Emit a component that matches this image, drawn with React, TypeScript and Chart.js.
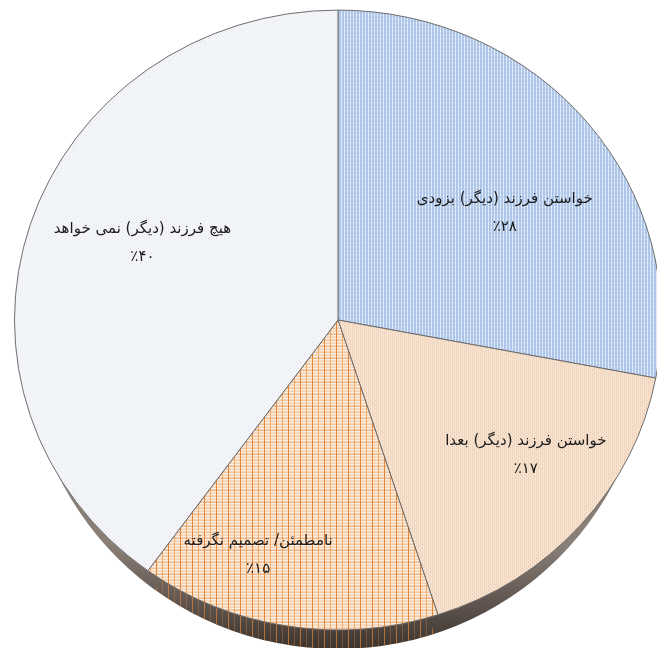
import React, { useEffect, useRef } from "react";
import { Chart, registerables } from "chart.js";

Chart.register(...registerables);

const categories = [
  "خواستن فرزند (دیگر) بزودی",
  "خواستن فرزند (دیگر) بعدا",
  "نامطمئن/ تصمیم نگرفته",
  "هیچ فرزند (دیگر) نمی خواهد",
];
const values = [28, 17, 15, 40];
const percentLabels = ["٪۲۸", "٪۱۷", "٪۱۵", "٪۴۰"];

// label placement relative to slice (radius fraction, angle delta in degrees)
const labelRadius = [0.621, 0.726, 0.799, 0.653];
const labelAngle = [5.7, -4.5, 9.0, 4.2];

const TILT = 0.958; // vertical squash of the pie (3D look)
const RIM = 20;
const RIM_INSET = 12;

function patternWithUnscale(ctx: CanvasRenderingContext2D, c: HTMLCanvasElement) {
  const p = ctx.createPattern(c, "repeat");
  if (!p) return "#eee";
  try {
    p.setTransform(new DOMMatrix().scale(1, 1 / TILT));
  } catch (e) {}
  return p;
}

function makePattern(kind: string): CanvasPattern | string {
  const c = document.createElement("canvas");
  const x = c.getContext("2d")!;
  if (kind === "blue") {
    c.width = 3; c.height = 4;
    x.fillStyle = "#adc6e9"; x.fillRect(0, 0, 3, 4);
    x.fillStyle = "#e9f0f9"; x.fillRect(2, 0, 1, 4);
    x.fillStyle = "#c2d5ee"; x.fillRect(2, 3, 1, 1);
  } else if (kind === "peach") {
    c.width = 4; c.height = 4;
    x.fillStyle = "#f6dfcb"; x.fillRect(0, 0, 4, 4);
    x.fillStyle = "#e6c1a0"; x.fillRect(0, 0, 1, 1); x.fillRect(2, 2, 1, 1);
    x.fillStyle = "#faece0"; x.fillRect(1, 3, 1, 1); x.fillRect(3, 1, 1, 1);
  } else if (kind === "orange") {
    c.width = 12; c.height = 12;
    x.fillStyle = "#fcefe3"; x.fillRect(0, 0, 12, 12);
    x.fillStyle = "#f5c497"; x.fillRect(0, 3, 12, 1); x.fillRect(0, 9, 12, 1);
    x.fillStyle = "#f0ad70"; x.fillRect(6, 0, 1, 12); x.fillRect(0, 6, 12, 1);
    x.fillStyle = "#eb9a55"; x.fillRect(0, 0, 12, 1);
    x.fillStyle = "#e5873a"; x.fillRect(0, 0, 1, 12);
  } else {
    c.width = 4; c.height = 4;
    x.fillStyle = "#f5f6f9"; x.fillRect(0, 0, 4, 4);
    x.fillStyle = "#dde1e9"; x.fillRect(0, 0, 1, 1); x.fillRect(2, 2, 1, 1);
  }
  return patternWithUnscale(x, c);
}

function streakPattern(): CanvasPattern | string {
  const c = document.createElement("canvas");
  c.width = 12; c.height = 4;
  const x = c.getContext("2d")!;
  x.fillStyle = "rgba(214,128,60,0.75)"; x.fillRect(0, 0, 1, 4);
  x.fillStyle = "rgba(214,128,60,0.35)"; x.fillRect(6, 0, 1, 4);
  return patternWithUnscale(x, c);
}

function centerOf(chart: any) {
  const a = chart.chartArea;
  return (a.top + a.bottom) / 2;
}

const tiltPlugin = {
  id: "tilt",
  beforeDatasetsDraw(chart: any) {
    const ctx = chart.ctx;
    const cy = centerOf(chart);
    ctx.save();
    ctx.translate(0, cy);
    ctx.scale(1, TILT);
    ctx.translate(0, -cy);
    // rim (pie thickness)
    const meta = chart.getDatasetMeta(0);
    const arc = meta.data[0];
    if (!arc) return;
    const { x, y, outerRadius } = arc.getProps(["x", "y", "outerRadius"], true);
    const rx = outerRadius - RIM_INSET;
    ctx.save();
    const g = ctx.createLinearGradient(0, y + outerRadius - 90, 0, y + outerRadius + RIM);
    g.addColorStop(0, "#8a7f77");
    g.addColorStop(1, "#3d342e");
    ctx.fillStyle = g;
    ctx.beginPath();
    ctx.ellipse(x, y + RIM, rx, outerRadius, 0, 0, Math.PI * 2);
    ctx.fill();
    const o = meta.data[2];
    if (o) {
      const p = o.getProps(["startAngle", "endAngle"], true);
      ctx.beginPath();
      ctx.moveTo(x, y + RIM);
      ctx.ellipse(x, y + RIM, rx, outerRadius, 0, p.startAngle, p.endAngle);
      ctx.closePath();
      ctx.clip();
      ctx.fillStyle = streakPattern();
      ctx.fillRect(x - outerRadius, y, outerRadius * 2, outerRadius + RIM + 2);
    }
    ctx.restore();
  },
  afterDatasetsDraw(chart: any) {
    const ctx = chart.ctx;
    ctx.restore();
    const C = centerOf(chart);
    const meta = chart.getDatasetMeta(0);
    ctx.save();
    ctx.fillStyle = "#1c1c1c";
    ctx.textAlign = "center";
    ctx.textBaseline = "middle";
    ctx.font = "15px 'DejaVu Sans'";
    meta.data.forEach((el: any, i: number) => {
      const p = el.getProps(["x", "y", "startAngle", "endAngle", "outerRadius"], true);
      const mid = (p.startAngle + p.endAngle) / 2 + (labelAngle[i] * Math.PI) / 180;
      const r = p.outerRadius * labelRadius[i];
      const lx = p.x + Math.cos(mid) * r;
      const ly = C + (p.y + Math.sin(mid) * r - C) * TILT;
      ctx.fillText(categories[i], lx, ly - 14);
      ctx.fillText(percentLabels[i], lx, ly + 14);
    });
    ctx.restore();
  },
};

export default function App() {
  const ref = useRef<HTMLCanvasElement | null>(null);
  useEffect(() => {
    if (!ref.current) return;
    const chart = new Chart(ref.current, {
      type: "pie",
      data: {
        labels: categories,
        datasets: [
          {
            data: values,
            backgroundColor: [
              makePattern("blue"),
              makePattern("peach"),
              makePattern("orange"),
              makePattern("white"),
            ] as any,
            borderColor: "#6a6a6a",
            borderWidth: 1,
          },
        ],
      },
      options: {
        animation: false,
        responsive: false,
        maintainAspectRatio: false,
        layout: { padding: { top: 0, bottom: 20, left: 0, right: 0 } },
        plugins: { legend: { display: false }, tooltip: { enabled: false } },
      },
      plugins: [tiltPlugin],
    });
    return () => chart.destroy();
  }, []);
  return (
    <div
      style={{
        position: "fixed",
        left: 0,
        top: 0,
        width: 657,
        height: 648,
        overflow: "hidden",
        background: "#fff",
      }}
    >
      <canvas
        ref={ref}
        width={676}
        height={668}
        style={{ position: "absolute", left: 0, top: -4, width: 676, height: 668 }}
      />
    </div>
  );
}
